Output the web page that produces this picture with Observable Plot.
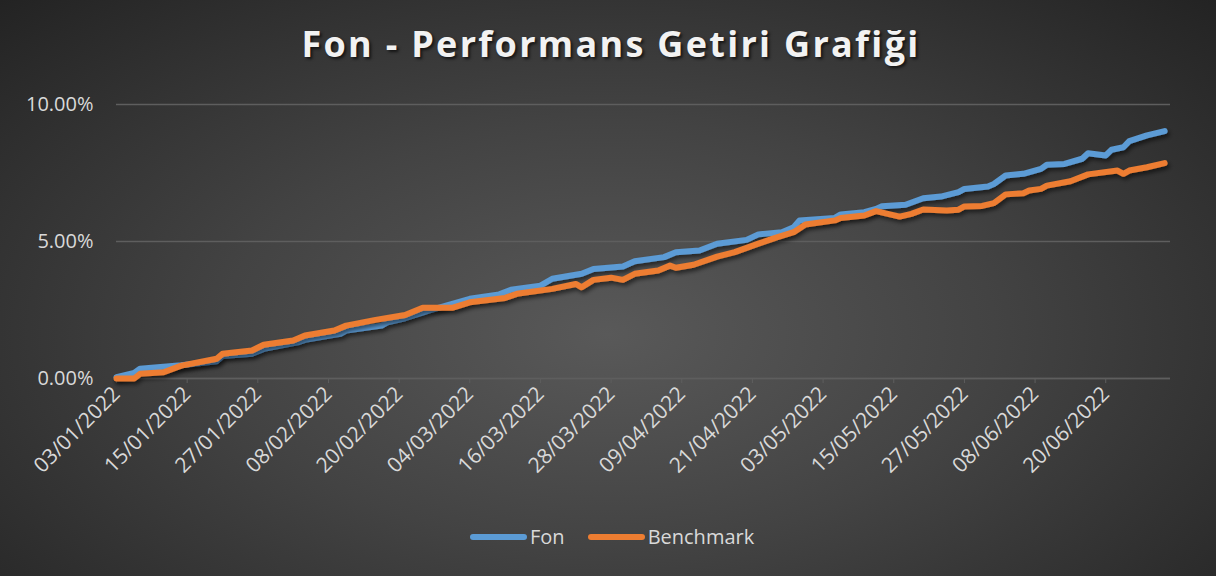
<!DOCTYPE html>
<html>
<head>
<meta charset="utf-8">
<script src="https://cdn.jsdelivr.net/npm/d3@7"></script>
<script src="https://cdn.jsdelivr.net/npm/@observablehq/plot@0.6"></script>
<style>
html, body { margin: 0; padding: 0; background: #262626; }
#chart {
  position: relative; width: 1216px; height: 576px; overflow: hidden;
  background: radial-gradient(ellipse farthest-corner at 50% 58%, #595959 0%, #434343 45%, #232323 100%);
  font-family: "Open Sans", sans-serif;
}
#title {
  position: absolute; left: 3px; top: 24px; width: 1216px; text-align: center;
  font-weight: 700; font-size: 36px; line-height: 40px; letter-spacing: 2.3px;
  color: #f2f2f2; text-shadow: 2px 2px 3px rgba(0,0,0,0.65);
}
#plot { position: absolute; left: 0; top: 80px; }
#legend {
  position: absolute; left: 470px; top: 523px; height: 28px;
  display: flex; align-items: center; font-size: 20px; line-height: 28px; color: #d9d9d9;
}
#legend .sw { width: 57px; height: 6px; border-radius: 3px; margin-right: 3px; }
#legend .item { display: flex; align-items: center; margin-right: 23px; }
</style>
</head>
<body>
<div id="chart">
  <div id="title">Fon - Performans Getiri Grafiği</div>
  <div id="plot"></div>
  <div id="legend"></div>
</div>
<script>
// ---- Data (values in %) ----
const seriesNames = ["Fon", "Benchmark"];
const seriesColors = ["#5b9bd5", "#ed7d31"];

const fonDates = ["2022-01-03","2022-01-06","2022-01-07","2022-01-11","2022-01-14","2022-01-20","2022-01-21","2022-01-26","2022-01-28","2022-02-03","2022-02-04","2022-02-10","2022-02-11","2022-02-17","2022-02-18","2022-02-21","2022-02-25","2022-03-04","2022-03-09","2022-03-11","2022-03-16","2022-03-18","2022-03-23","2022-03-25","2022-03-30","2022-04-01","2022-04-06","2022-04-08","2022-04-12","2022-04-15","2022-04-20","2022-04-22","2022-04-26","2022-04-28","2022-04-29","2022-05-05","2022-05-06","2022-05-10","2022-05-12","2022-05-13","2022-05-17","2022-05-20","2022-05-23","2022-05-26","2022-05-27","2022-05-31","2022-06-01","2022-06-03","2022-06-06","2022-06-09","2022-06-10","2022-06-13","2022-06-16","2022-06-17","2022-06-20","2022-06-21","2022-06-23","2022-06-24","2022-06-27","2022-06-30"];
const fonValues = [0.05,0.20,0.36,0.43,0.48,0.63,0.82,0.90,1.08,1.33,1.41,1.63,1.75,1.93,2.05,2.20,2.48,2.91,3.07,3.24,3.39,3.64,3.82,4.00,4.09,4.28,4.43,4.61,4.67,4.92,5.06,5.26,5.34,5.52,5.77,5.86,5.99,6.07,6.19,6.29,6.34,6.58,6.64,6.80,6.92,7.01,7.10,7.41,7.47,7.65,7.80,7.83,8.02,8.22,8.14,8.35,8.44,8.66,8.87,9.03];

const benchDates = ["2022-01-03","2022-01-06","2022-01-07","2022-01-11","2022-01-14","2022-01-20","2022-01-21","2022-01-26","2022-01-28","2022-02-02","2022-02-04","2022-02-09","2022-02-11","2022-02-16","2022-02-21","2022-02-24","2022-03-01","2022-03-04","2022-03-10","2022-03-12","2022-03-18","2022-03-22","2022-03-23","2022-03-25","2022-03-28","2022-03-30","2022-04-01","2022-04-05","2022-04-07","2022-04-08","2022-04-11","2022-04-15","2022-04-18","2022-04-22","2022-04-25","2022-04-28","2022-04-30","2022-05-05","2022-05-06","2022-05-10","2022-05-12","2022-05-16","2022-05-18","2022-05-20","2022-05-24","2022-05-26","2022-05-27","2022-05-30","2022-06-01","2022-06-03","2022-06-06","2022-06-07","2022-06-09","2022-06-10","2022-06-14","2022-06-17","2022-06-22","2022-06-23","2022-06-24","2022-06-27","2022-06-30"];
const benchValues = [0.00,0.00,0.17,0.23,0.47,0.72,0.90,1.02,1.23,1.39,1.57,1.75,1.93,2.14,2.32,2.58,2.58,2.78,2.94,3.09,3.27,3.45,3.33,3.60,3.68,3.60,3.82,3.94,4.12,4.04,4.15,4.45,4.61,4.92,5.14,5.34,5.62,5.77,5.86,5.95,6.11,5.91,6.01,6.17,6.13,6.16,6.28,6.30,6.40,6.72,6.76,6.86,6.92,7.04,7.20,7.45,7.59,7.47,7.59,7.71,7.86];

const xTickLabels = ["2022-01-03","2022-01-15","2022-01-27","2022-02-08","2022-02-20","2022-03-04","2022-03-16","2022-03-28","2022-04-09","2022-04-21","2022-05-03","2022-05-15","2022-05-27","2022-06-08","2022-06-20"];
const yTicks = [0, 5, 10];

// ---- Build table ----
const rows = [
  ...fonDates.map((d, i) => ({date: new Date(d), value: fonValues[i], series: seriesNames[0]})),
  ...benchDates.map((d, i) => ({date: new Date(d), value: benchValues[i], series: seriesNames[1]}))
];

const gridColor = "#5e5e5e";
const fmtDate = d3.utcFormat("%d/%m/%Y");

const chart = Plot.plot({
  width: 1216,
  height: 440,
  marginLeft: 116,
  marginRight: 46,
  marginTop: 24,
  marginBottom: 142,
  style: {background: "transparent", color: "#d9d9d9", fontFamily: "'Open Sans', sans-serif", fontSize: "20px", overflow: "visible"},
  x: {type: "utc", domain: [new Date("2022-01-03"), new Date("2022-07-01")]},
  y: {domain: [0, 10]},
  color: {domain: seriesNames, range: seriesColors},
  marks: [
    Plot.gridY(yTicks, {stroke: gridColor, strokeOpacity: 1, strokeWidth: 1.3}),
    Plot.ruleY([0], {stroke: gridColor, strokeWidth: 1.3}),
    Plot.axisY(yTicks, {tickSize: 0, tickPadding: 23, tickFormat: d => d.toFixed(2) + "%", label: null, fill: "#d9d9d9"}),
    Plot.axisX(xTickLabels.map(d => new Date(d)), {tickSize: 5, tickPadding: 7, tickRotate: -45, fontSize: 21, tickFormat: fmtDate, label: null, stroke: gridColor, fill: "#d9d9d9"}),
    Plot.line(rows, {x: "date", y: "value", z: "series", stroke: "series", strokeWidth: 6, strokeLinecap: "round", strokeLinejoin: "round"})
  ]
});

// drop shadow for the lines
const svg = d3.select(chart);
const defs = svg.insert("defs", ":first-child");
defs.append("filter").attr("id", "lineShadow").attr("x", "-10%").attr("y", "-10%").attr("width", "120%").attr("height", "130%")
  .append("feDropShadow").attr("dx", 2).attr("dy", 3).attr("stdDeviation", 2)
  .attr("flood-color", "#000").attr("flood-opacity", 0.55);
svg.selectAll("g[aria-label='line'] path").attr("filter", "url(#lineShadow)");

document.getElementById("plot").appendChild(chart);

// legend
const legend = document.getElementById("legend");
seriesNames.forEach((name, i) => {
  const item = document.createElement("div");
  item.className = "item";
  const sw = document.createElement("div");
  sw.className = "sw";
  sw.style.background = seriesColors[i];
  const t = document.createElement("span");
  t.textContent = name;
  item.appendChild(sw);
  item.appendChild(t);
  legend.appendChild(item);
});
</script>
</body>
</html>
